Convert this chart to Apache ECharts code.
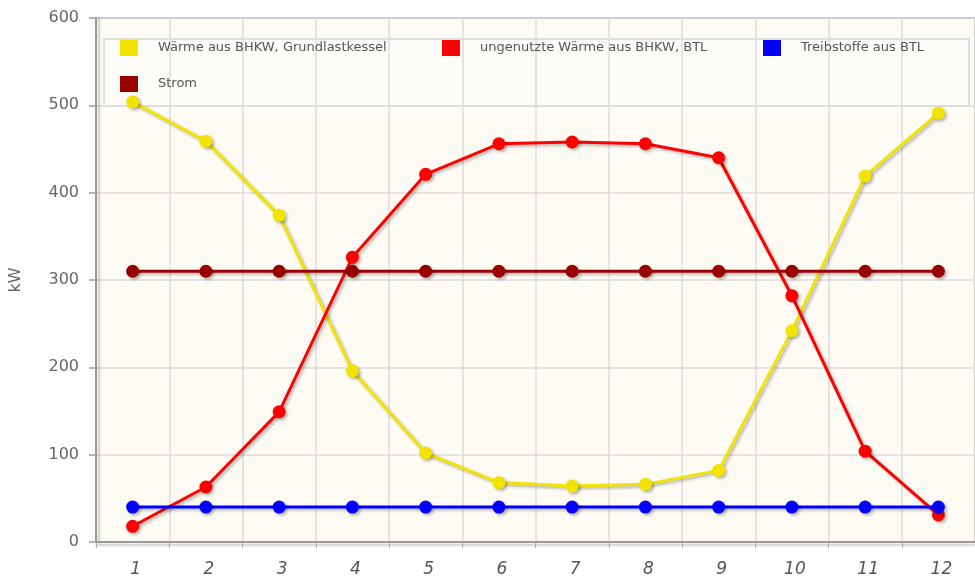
<!DOCTYPE html>
<html>
<head>
<meta charset="utf-8">
<title>Leistung</title>
<script src="https://cdn.jsdelivr.net/npm/echarts@6/dist/echarts.min.js"></script>
<style>
  html, body { margin: 0; padding: 0; background: #ffffff; }
  #chart { width: 975px; height: 579px; }
</style>
</head>
<body>
<div id="chart"></div>
<script>
// Monthly values in kW
const months = ['1', '2', '3', '4', '5', '6', '7', '8', '9', '10', '11', '12'];
const waermeBHKW = [504, 459, 374, 196, 102, 68, 64, 66, 82, 242, 419, 491];
const ungenutzteWaerme = [18, 63, 149, 326, 421, 456, 458, 456, 440, 282, 104, 31];
const treibstoffe = [40, 40, 40, 40, 40, 40, 40, 40, 40, 40, 40, 40];
const strom = [310, 310, 310, 310, 310, 310, 310, 310, 310, 310, 310, 310];
const yTicks = { min: 0, max: 600, interval: 100 };

const names = [
  'Wärme aus BHKW, Grundlastkessel',
  'ungenutzte Wärme aus BHKW, BTL',
  'Treibstoffe aus BTL',
  'Strom'
];
const colors = ['#f2e400', '#ff0000', '#0000ff', '#990000'];
const values = [waermeBHKW, ungenutzteWaerme, treibstoffe, strom];

const chart = echarts.init(document.getElementById('chart'), null, { renderer: 'canvas' });

const shadow = {
  shadowColor: 'rgba(0,0,0,0.28)',
  shadowBlur: 3,
  shadowOffsetX: 2,
  shadowOffsetY: 2
};

const series = names.map((n, i) => ({
  name: n,
  type: 'line',
  data: values[i],
  smooth: false,
  symbol: 'circle',
  symbolSize: 13,
  lineStyle: Object.assign({ color: colors[i], width: 3 }, shadow),
  itemStyle: Object.assign({ color: colors[i] }, shadow),
  emphasis: { disabled: true }
}));

// one legend per entry so each sits in its own column
const legendPos = [
  { left: 120, top: 40 },
  { left: 442, top: 40 },
  { left: 763, top: 40 },
  { left: 120, top: 76 }
];
const legends = names.map((n, i) => ({
  data: [n],
  left: legendPos[i].left,
  top: legendPos[i].top,
  padding: 0,
  icon: 'rect',
  itemWidth: 18,
  itemHeight: 16,
  itemStyle: { borderWidth: 0, shadowBlur: 0, shadowOffsetX: 0, shadowOffsetY: 0 },
  textStyle: {
    fontFamily: 'DejaVu Sans',
    fontSize: 13,
    color: '#555555',
    padding: [0, 0, 0, 15]
  },
  selectedMode: false
}));

chart.setOption({
  animation: false,
  backgroundColor: '#ffffff',
  grid: {
    left: 95,
    right: -12,
    top: 18,
    bottom: 37,
    show: true,
    backgroundColor: '#fdfbf4',
    borderColor: '#9a9a9a',
    borderWidth: 2
  },
  legend: legends,
  graphic: [{
    type: 'rect',
    left: 103,
    top: 38,
    shape: { width: 865, height: 67 },
    style: { fill: 'rgba(255,255,255,0.35)', stroke: '#dddddd', lineWidth: 2 },
    z: 0,
    silent: true
  }],
  xAxis: {
    type: 'category',
    data: months,
    boundaryGap: true,
    axisLine: {
      lineStyle: {
        color: '#9a9a9a', width: 2,
        shadowColor: 'rgba(0,0,0,0.2)', shadowBlur: 2, shadowOffsetY: 3
      }
    },
    axisTick: { show: true, length: 6, lineStyle: { color: '#aaaaaa', width: 1 } },
    axisLabel: {
      margin: 19,
      padding: [0, 0, 0, 6],
      fontFamily: 'DejaVu Sans',
      fontStyle: 'italic',
      fontSize: 17,
      color: '#555555'
    },
    splitLine: { show: true, lineStyle: { color: '#dcdcdc', width: 1.5 } }
  },
  yAxis: {
    type: 'value',
    min: yTicks.min,
    max: yTicks.max,
    interval: yTicks.interval,
    name: 'kW',
    nameLocation: 'middle',
    nameGap: 72,
    nameRotate: 90,
    nameTextStyle: { fontFamily: 'DejaVu Sans', fontSize: 16, color: '#666666' },
    axisLine: {
      show: true,
      lineStyle: {
        color: '#9a9a9a', width: 2,
        shadowColor: 'rgba(0,0,0,0.2)', shadowBlur: 2, shadowOffsetX: 3
      }
    },
    axisTick: { show: true, length: 7, lineStyle: { color: '#9a9a9a', width: 1.5 } },
    axisLabel: {
      margin: 17,
      fontFamily: 'DejaVu Sans',
      fontSize: 16,
      color: '#666666'
    },
    splitLine: { show: true, lineStyle: { color: '#dcdcdc', width: 1.5 } }
  },
  series: series
});
</script>
</body>
</html>
